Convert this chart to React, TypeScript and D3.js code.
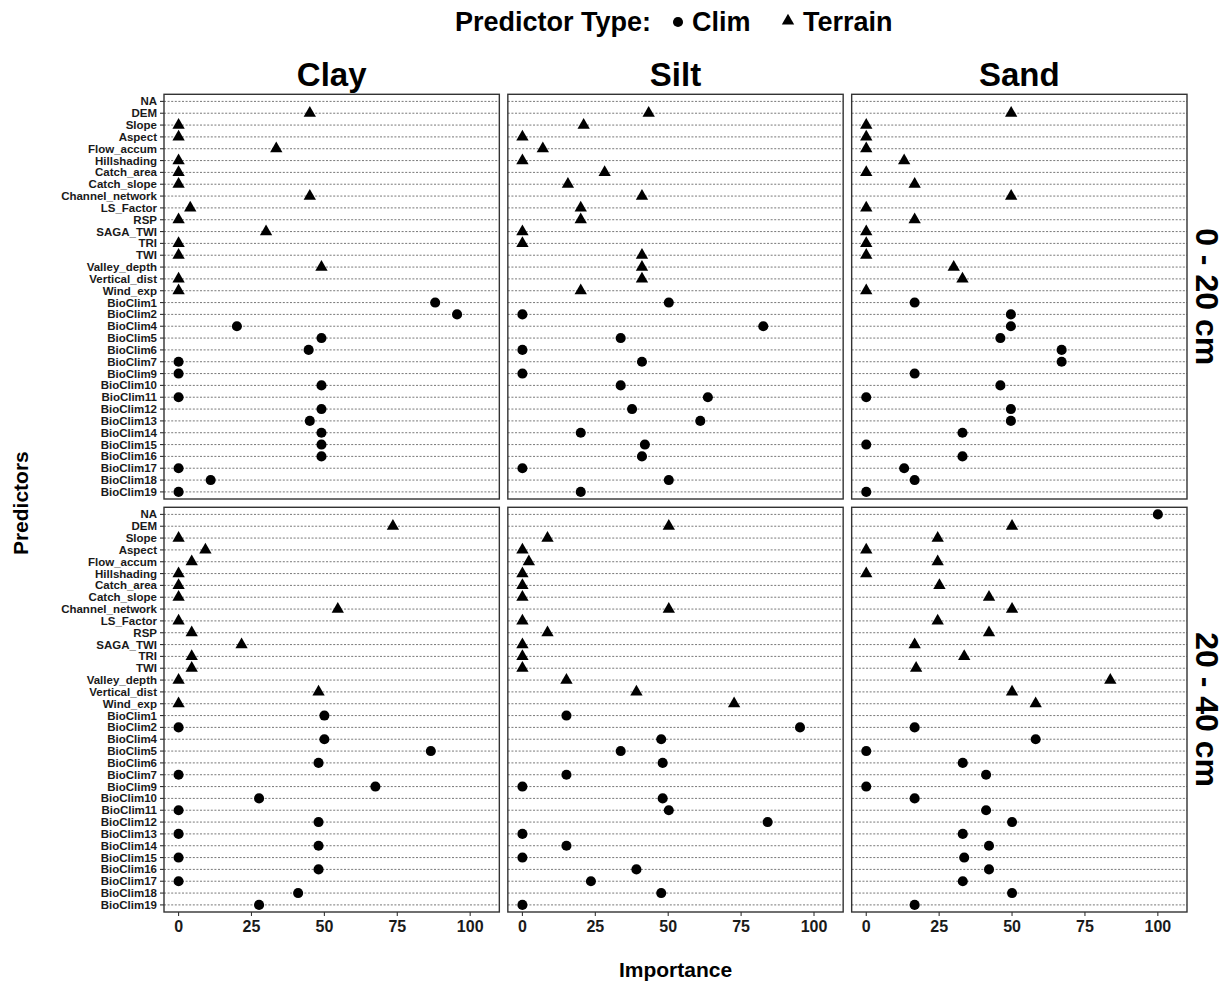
import React from 'react';
import * as d3 from 'd3';

const predictors = [
  'NA', 'DEM', 'Slope', 'Aspect', 'Flow_accum', 'Hillshading', 'Catch_area', 'Catch_slope',
  'Channel_network', 'LS_Factor', 'RSP', 'SAGA_TWI', 'TRI', 'TWI', 'Valley_depth',
  'Vertical_dist', 'Wind_exp', 'BioClim1', 'BioClim2', 'BioClim4', 'BioClim5', 'BioClim6',
  'BioClim7', 'BioClim9', 'BioClim10', 'BioClim11', 'BioClim12', 'BioClim13', 'BioClim14',
  'BioClim15', 'BioClim16', 'BioClim17', 'BioClim18', 'BioClim19',
];

const predictorType = [
  'Clim', 'Terrain', 'Terrain', 'Terrain', 'Terrain', 'Terrain', 'Terrain', 'Terrain',
  'Terrain', 'Terrain', 'Terrain', 'Terrain', 'Terrain', 'Terrain', 'Terrain',
  'Terrain', 'Terrain', 'Clim', 'Clim', 'Clim', 'Clim', 'Clim',
  'Clim', 'Clim', 'Clim', 'Clim', 'Clim', 'Clim', 'Clim',
  'Clim', 'Clim', 'Clim', 'Clim', 'Clim',
];

const textures = ['Clay', 'Silt', 'Sand'];
const depths = ['0 - 20 cm', '20 - 40 cm'];
const xTicks = [0, 25, 50, 75, 100];

// importance per predictor (null = not in the model)
const clay0_20 = [null, 45, 0, 0, 33.5, 0, 0, 0, 45, 4, 0, 30, 0, 0, 49, 0, 0,
  88, 95.5, 20, 49, 44.6, 0, 0, 49, 0, 49, 45, 49, 49, 49, 0, 11, 0];
const silt0_20 = [null, 43.3, 21, 0, 7, 0, 28.2, 15.6, 41, 20, 20, 0, 0, 41, 41, 41, 20,
  50.2, 0, 82.6, 33.7, 0, 41, 0, 33.7, 63.6, 37.6, 61, 20, 42, 41, 0, 50.2, 20];
const sand0_20 = [null, 49.7, 0, 0, 0, 13, 0, 16.6, 49.7, 0, 16.6, 0, 0, 0, 30, 33, 0,
  16.6, 49.6, 49.6, 46, 67, 67, 16.6, 46, 0, 49.6, 49.6, 33, 0, 33, 13, 16.6, 0];
const clay20_40 = [null, 73.5, 0, 9.2, 4.5, 0, 0, 0, 54.6, 0, 4.5, 21.6, 4.5, 4.5, 0, 48, 0,
  50, 0, 50, 86.5, 48, 0, 67.5, 27.6, 0, 48, 0, 48, 0, 48, 0, 41, 27.6];
const silt20_40 = [null, 50.2, 8.6, 0, 2.2, 0, 0, 0, 50.2, 0, 8.6, 0, 0, 0, 15.1, 39.1, 72.6,
  15.1, 95.2, 47.6, 33.7, 48.1, 15.1, 0, 48.1, 50.2, 84.1, 0, 15.1, 0, 39.1, 23.5, 47.6, 0];
const sand20_40 = [100, 50, 24.5, 0, 24.5, 0, 25.1, 42.1, 50, 24.5, 42.1, 16.6, 33.6, 17.1, 83.7, 50, 58.1,
  null, 16.6, 58.1, 0, 33.1, 41.1, 0, 16.6, 41.1, 50, 33.1, 42.1, 33.6, 42.1, 33.1, 50, 16.6];

const panelValues = [
  [clay0_20, silt0_20, sand0_20],
  [clay20_40, silt20_40, sand20_40],
];

const W = 1224;
const H = 984;
const left = 164;
const right = 1187;
const top = 94.3;
const bottom = 912;
const gapX = 8.5;
const gapY = 8.3;
const pw = (right - left - 2 * gapX) / 3;
const ph = (bottom - top - gapY) / 2;
const font = '"Liberation Sans", Arial, Helvetica, sans-serif';

export default function App() {
  const x = d3.scaleLinear().domain([-5, 110]).range([0, pw]);
  const y = d3.scalePoint<string>().domain(predictors).range([0, ph]).padding(0.6);
  const triPath = d3.symbol().type(d3.symbolTriangle).size(66)() as string;
  const circPath = d3.symbol().type(d3.symbolCircle).size(80)() as string;

  return (
    <svg width={W} height={H} style={{ position: 'absolute', left: 0, top: 0, background: '#fff' }}
      fontFamily={font} fontWeight="bold">
      {/* legend */}
      <g>
        <text x={455} y={31} fontSize={27}>Predictor Type:</text>
        <path d={circPath} transform="translate(678,22)" fill="#000" />
        <text x={692} y={31} fontSize={27}>Clim</text>
        <path d={triPath} transform="translate(788,21)" fill="#000" />
        <text x={803} y={31} fontSize={27}>Terrain</text>
      </g>

      {depths.map((depth, r) => {
        const py = top + r * (ph + gapY);
        return (
          <g key={depth}>
            <text transform={`translate(${right + 9},${py + ph / 2}) rotate(90)`} textAnchor="middle"
              fontSize={32}>{depth}</text>
            {textures.map((tex, c) => {
              const px = left + c * (pw + gapX);
              const vals = panelValues[r][c];
              return (
                <g key={tex} transform={`translate(${px},${py})`}>
                  {r === 0 && (
                    <text x={pw / 2} y={-8} textAnchor="middle" fontSize={33}>{tex}</text>
                  )}
                  {predictors.map(p => (
                    <line key={p} x1={0} x2={pw} y1={y(p)} y2={y(p)} stroke="#555"
                      strokeWidth={0.8} strokeDasharray="2,1.6" />
                  ))}
                  {vals.map((v, i) => v == null ? null : (
                    <path key={i} d={predictorType[i] === 'Clim' ? circPath : triPath}
                      transform={`translate(${x(v)},${y(predictors[i])})`} fill="#000" />
                  ))}
                  <rect x={0} y={0} width={pw} height={ph} fill="none" stroke="#333" strokeWidth={1.4} />
                  {c === 0 && predictors.map(p => (
                    <g key={p} transform={`translate(0,${y(p)})`}>
                      <line x1={-4} x2={0} stroke="#333" strokeWidth={1.1} />
                      <text x={-7} dy="0.35em" textAnchor="end" fontSize={11.5} fill="#1a1a1a">{p}</text>
                    </g>
                  ))}
                  {r === 1 && xTicks.map(t => (
                    <g key={t} transform={`translate(${x(t)},${ph})`}>
                      <line y1={0} y2={4} stroke="#333" strokeWidth={1.1} />
                      <text y={20} textAnchor="middle" fontSize={16} fill="#1a1a1a">{t}</text>
                    </g>
                  ))}
                </g>
              );
            })}
          </g>
        );
      })}

      <text x={(left + right) / 2} y={977} textAnchor="middle" fontSize={21}>Importance</text>
      <text transform={`translate(28,${(top + bottom) / 2}) rotate(-90)`} textAnchor="middle"
        fontSize={21}>Predictors</text>
    </svg>
  );
}
